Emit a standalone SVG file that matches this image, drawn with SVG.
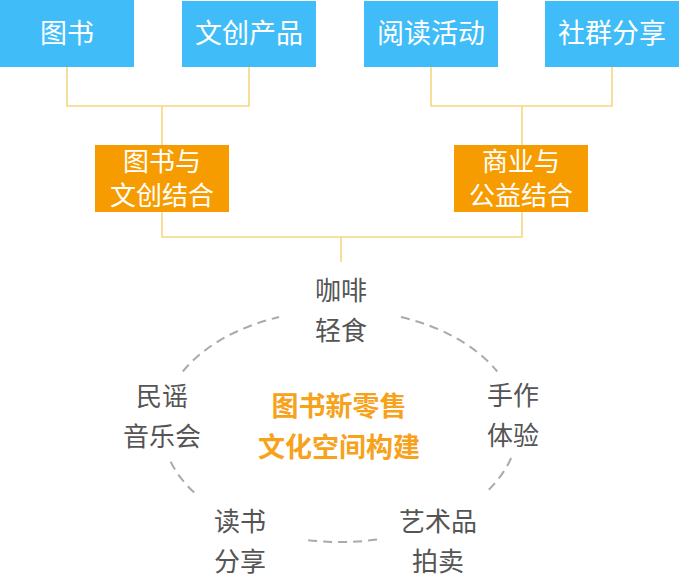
<svg xmlns="http://www.w3.org/2000/svg" width="680" height="579" viewBox="0 0 680 579">
<style>
.blue{fill:#40BDF9}
.orange{fill:#F79C00}
.wt{fill:#ffffff;font-family:"Noto Sans CJK SC",sans-serif;text-anchor:middle}
.conn{fill:none;stroke:#F5D77E;stroke-width:1.6}
.dash{fill:none;stroke:#AAAAAA;stroke-width:2;stroke-dasharray:9 6}
.lbl{fill:#555555;font-family:"Noto Sans CJK SC",sans-serif;font-size:26px;text-anchor:middle}
.core{fill:#F7A21B;font-family:"Noto Sans CJK SC",sans-serif;font-size:27px;font-weight:bold;text-anchor:middle}
</style>
<rect width="680" height="579" fill="#ffffff"/>
<g id="connectors">
<path class="conn" d="M67,67 V106 H249 V67"/>
<path class="conn" d="M162,106 V145"/>
<path class="conn" d="M431,67 V106 H612 V67"/>
<path class="conn" d="M522,106 V145"/>
<path class="conn" d="M162,212 V237 H522 V212"/>
<path class="conn" d="M341,237 V262"/>
</g>
<g id="ring">
<path class="dash" d="M182.8,371.5 A178,116 0 0 1 279.1,317"/>
<path class="dash" d="M400.9,317 A178,116 0 0 1 497.2,371.5"/>
<path class="dash" d="M511.1,458 A178,116 0 0 1 485.8,492.6"/>
<path class="dash" d="M377,539.5 A178,116 0 0 1 303,539.5"/>
<path class="dash" d="M194.2,492.6 A178,116 0 0 1 168.9,458"/>
</g>
<g id="n-tushu"><rect class="blue" x="0" y="0" width="134" height="67"/><text class="wt" x="67" y="43" font-size="27">图书</text></g>
<g id="n-wenchuang"><rect class="blue" x="182" y="1" width="134" height="66"/><text class="wt" x="249" y="43" font-size="27">文创产品</text></g>
<g id="n-yuedu"><rect class="blue" x="364" y="1" width="134" height="66"/><text class="wt" x="431" y="43" font-size="27">阅读活动</text></g>
<g id="n-shequn"><rect class="blue" x="545" y="1" width="134" height="66"/><text class="wt" x="612" y="43" font-size="27">社群分享</text></g>
<g id="n-combine1"><rect class="orange" x="95" y="145" width="134" height="67"/><text class="wt" x="162" y="171" font-size="26">图书与</text><text class="wt" x="162" y="205" font-size="26">文创结合</text></g>
<g id="n-combine2"><rect class="orange" x="454" y="145" width="134" height="67"/><text class="wt" x="521" y="171" font-size="26">商业与</text><text class="wt" x="521" y="205" font-size="26">公益结合</text></g>
<g id="n-coffee"><text class="lbl" x="341" y="300">咖啡</text><text class="lbl" x="341" y="340">轻食</text></g>
<g id="n-folk"><text class="lbl" x="162" y="406">民谣</text><text class="lbl" x="162" y="446">音乐会</text></g>
<g id="n-craft"><text class="lbl" x="513" y="405">手作</text><text class="lbl" x="513" y="445">体验</text></g>
<g id="n-reading"><text class="lbl" x="240" y="531">读书</text><text class="lbl" x="240" y="571">分享</text></g>
<g id="n-art"><text class="lbl" x="438" y="531">艺术品</text><text class="lbl" x="438" y="571">拍卖</text></g>
<g id="n-core"><text class="core" x="339" y="416">图书新零售</text><text class="core" x="339" y="457">文化空间构建</text></g>
</svg>
